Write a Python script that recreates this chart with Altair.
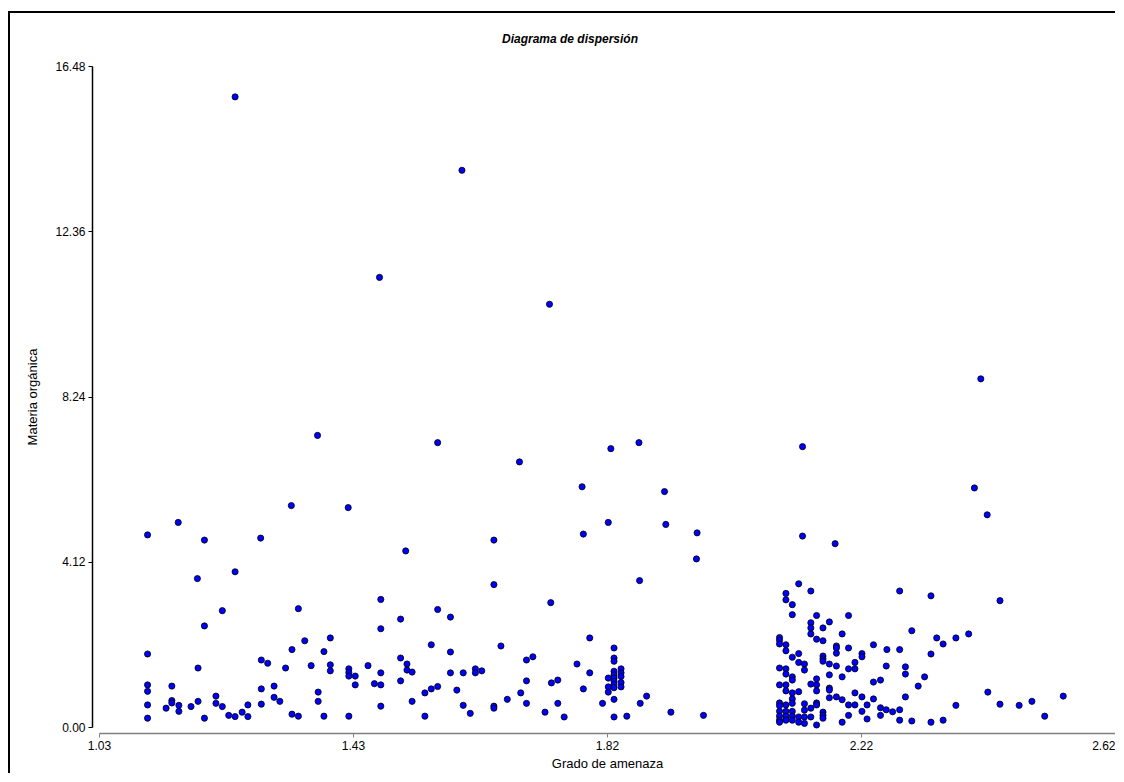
import altair as alt
import pandas as pd

# Puntos aislados (valores altos)
grado_altos = [1.243, 1.598, 1.469, 1.735, 2.410, 1.372, 1.560, 1.831, 1.875, 2.131,
               1.688, 1.786, 1.915, 2.400, 1.331, 1.420, 1.154, 1.827, 1.917, 2.420,
               1.106, 1.966, 2.131, 1.195, 1.283, 1.648, 2.182, 1.510, 1.965, 1.243,
               1.184, 1.648, 1.876, 2.440, 1.471, 1.737, 1.223, 1.342, 1.560, 1.788]
materia_altos = [15.71, 13.88, 11.21, 10.54, 8.68, 7.27, 7.09, 6.94, 7.09, 6.99,
                 6.61, 5.99, 5.87, 5.96, 5.52, 5.47, 5.10, 5.10, 5.05, 5.29,
                 4.79, 4.84, 4.76, 4.66, 4.71, 4.66, 4.57, 4.39, 4.19, 3.87,
                 3.70, 3.55, 3.65, 3.15, 3.18, 3.10, 2.90, 2.95, 2.93, 4.81]

# Grupo izquierdo (1.03 - 1.43)
grado_izq = [1.195, 1.106, 1.352, 1.392, 1.332, 1.382, 1.284, 1.294, 1.185, 1.322,
             1.362, 1.392, 1.392, 1.421, 1.421, 1.421, 1.106, 1.106, 1.144, 1.213,
             1.284, 1.304, 1.304, 1.313, 1.373, 1.373, 1.106, 1.135, 1.144, 1.144,
             1.155, 1.155, 1.174, 1.185, 1.213, 1.223, 1.263, 1.254, 1.233, 1.243,
             1.263, 1.284, 1.106, 1.195, 1.332, 1.342, 1.382, 1.421]
materia_izq = [2.52, 1.82, 2.15, 2.22, 1.93, 1.88, 1.67, 1.59, 1.47, 1.47,
               1.53, 1.55, 1.40, 1.45, 1.36, 1.27, 1.05, 0.89, 1.02, 0.77,
               0.95, 1.02, 0.74, 0.64, 0.87, 0.64, 0.55, 0.47, 0.66, 0.60,
               0.54, 0.39, 0.51, 0.64, 0.59, 0.51, 0.55, 0.37, 0.29, 0.26,
               0.26, 0.57, 0.22, 0.22, 0.32, 0.27, 0.27, 0.27]

# Grupo central (1.43 - 1.80)
grado_centro = [1.471, 1.502, 1.580, 1.550, 1.580, 1.659, 1.798, 1.431, 1.431, 1.451,
                1.461, 1.471, 1.471, 1.471, 1.502, 1.512, 1.512, 1.520, 1.502, 1.520,
                1.540, 1.550, 1.560, 1.540, 1.580, 1.590, 1.600, 1.600, 1.611, 1.619,
                1.619, 1.629, 1.648, 1.648, 1.669, 1.690, 1.699, 1.709, 1.699, 1.699,
                1.728, 1.738, 1.748, 1.748, 1.758, 1.778, 1.788, 1.798]
materia_centro = [2.45, 2.69, 2.74, 2.05, 1.87, 2.02, 2.22, 1.27, 1.05, 1.53,
                  1.08, 1.35, 1.05, 0.52, 1.72, 1.57, 1.42, 1.37, 1.15, 0.64,
                  0.85, 0.95, 1.01, 0.27, 1.35, 0.92, 1.35, 0.54, 0.34, 1.45,
                  1.35, 1.40, 0.52, 0.47, 0.69, 0.85, 1.67, 1.75, 1.15, 0.59,
                  0.37, 1.10, 1.17, 0.59, 0.25, 1.57, 0.95, 1.35]

# Grupo en torno a 1.82
grado_182 = [1.836, 1.836, 1.836, 1.836, 1.836, 1.836, 1.836, 1.836, 1.836, 1.847,
             1.847, 1.847, 1.847, 1.847, 1.827, 1.827, 1.827, 1.836, 1.818, 1.836,
             1.856, 1.877, 1.887, 1.925, 1.976]
materia_182 = [1.97, 1.72, 1.64, 1.39, 1.30, 1.22, 1.14, 1.06, 0.98, 1.45,
               1.35, 1.26, 1.11, 1.00, 1.22, 1.00, 0.87, 0.69, 0.59, 0.25,
               0.27, 0.59, 0.77, 0.37, 0.29]

# Grupo derecho (2.09 - 2.54)
grado_der = [2.125, 2.105, 2.144, 2.283, 2.332, 2.105, 2.115, 2.115, 2.153, 2.203,
             2.144, 2.173, 2.144, 2.163, 2.144, 2.193, 2.302, 2.341, 2.351, 2.153,
             2.163, 2.095, 2.095, 2.095, 2.105, 2.184, 2.184, 2.203, 2.242, 2.263,
             2.283, 2.332, 2.105, 2.184, 2.224, 2.224, 2.115, 2.125, 2.163, 2.163,
             2.163, 2.125, 2.134, 2.134, 2.173, 2.184, 2.213, 2.203, 2.213, 2.262,
             2.292, 2.292, 2.322, 2.312, 2.095, 2.105, 2.105, 2.115, 2.115, 2.173,
             2.193, 2.153, 2.242, 2.253, 2.095, 2.105, 2.144, 2.153, 2.173, 2.173,
             2.105, 2.115, 2.125, 2.153, 2.213, 2.173, 2.184, 2.193, 2.224, 2.242,
             2.292, 2.115, 2.115, 2.095, 2.095, 2.105, 2.134, 2.153, 2.153, 2.203,
             2.213, 2.232, 2.144, 2.253, 2.262, 2.272, 2.283, 2.134, 2.095, 2.105,
             2.115, 2.224, 2.163, 2.163, 2.163, 2.095, 2.105, 2.115, 2.125, 2.134,
             2.144, 2.203, 2.253, 2.095, 2.095, 2.105, 2.115, 2.125, 2.134, 2.153,
             2.193, 2.232, 2.283, 2.302, 2.332, 2.351,
             2.371, 2.391, 2.421, 2.371, 2.440, 2.470, 2.490, 2.510, 2.539]
materia_der = [3.57, 3.33, 3.39, 3.39, 3.27, 3.17, 3.05, 2.80, 2.78, 2.78,
               2.60, 2.62, 2.47, 2.47, 2.32, 2.32, 2.40, 2.22, 2.07, 2.19,
               2.15, 2.23, 2.16, 2.07, 2.05, 2.02, 1.97, 1.97, 2.05, 1.93,
               1.93, 1.82, 1.90, 1.84, 1.83, 1.75, 1.74, 1.83, 1.77, 1.70,
               1.64, 1.61, 1.57, 1.42, 1.57, 1.52, 1.61, 1.45, 1.45, 1.52,
               1.50, 1.32, 1.25, 1.02, 1.47, 1.45, 1.32, 1.25, 1.17, 1.30,
               1.25, 1.20, 1.12, 1.17, 1.05, 1.05, 1.07, 1.05, 0.97, 0.92,
               0.90, 0.85, 0.88, 0.90, 0.85, 0.73, 0.75, 0.68, 0.75, 0.70,
               0.75, 0.70, 0.59, 0.60, 0.53, 0.55, 0.58, 0.60, 0.55, 0.55,
               0.55, 0.55, 0.47, 0.48, 0.43, 0.38, 0.43, 0.42, 0.39, 0.39,
               0.39, 0.39, 0.37, 0.29, 0.22, 0.27, 0.27, 0.27, 0.25, 0.25,
               0.25, 0.29, 0.29, 0.17, 0.12, 0.17, 0.17, 0.12, 0.09, 0.05,
               0.12, 0.20, 0.17, 0.15, 0.12, 0.17,
               2.22, 2.32, 0.87, 0.54, 0.57, 0.54, 0.64, 0.27, 0.77]

x_ticks = [1.03, 1.4275, 1.825, 2.2225, 2.62]
y_ticks = [0.0, 4.12, 8.24, 12.36, 16.48]

grado = grado_altos + grado_izq + grado_centro + grado_182 + grado_der
materia = materia_altos + materia_izq + materia_centro + materia_182 + materia_der
df = pd.DataFrame({"grado": grado, "materia": materia})

FONT = "Liberation Sans"
W, H = 1016, 661

points = alt.Chart(df).mark_circle(
    color="#0000ff", stroke="black", strokeWidth=0.8, size=38, opacity=1
).encode(
    x=alt.X("grado:Q",
            scale=alt.Scale(domain=[1.03, 2.62], nice=False, zero=False),
            axis=alt.Axis(values=x_ticks, format=".2f", title="Grado de amenaza",
                          offset=6, grid=False, domainColor="#808080", domainWidth=1.5,
                          tickColor="#808080", tickSize=4, labelFlush=False,
                          labelAlign={"condition": {"test": "datum.value > 2.6",
                                                    "value": "right"},
                                      "value": "center"},
                          labelOverlap=False, labelFont=FONT, labelFontSize=12,
                          labelColor="black", labelPadding=3, titleFont=FONT,
                          titleFontSize=13, titleFontWeight="normal",
                          titleColor="black", titlePadding=6)),
    y=alt.Y("materia:Q",
            scale=alt.Scale(domain=[0, 16.48], nice=False, zero=True),
            axis=alt.Axis(values=y_ticks, format=".2f", title="Materia orgánica",
                          offset=7, grid=False, domainColor="black", domainWidth=1.5,
                          tickColor="black", tickSize=4, labelFlush=False,
                          labelOverlap=False, labelFont=FONT, labelFontSize=12,
                          labelColor="black", labelPadding=3, titleFont=FONT,
                          titleFontSize=13, titleFontWeight="normal",
                          titleColor="black", titlePadding=15)),
)

frame = alt.Chart(alt.Data(values=[{}])).mark_rect(
    filled=False, stroke="black", strokeWidth=2
).encode(
    x=alt.value(-90), x2=alt.value(1040), y=alt.value(-54), y2=alt.value(740)
)

title = alt.Chart(alt.Data(values=[{}])).mark_text(
    text="Diagrama de dispersión", font=FONT, fontSize=12, fontStyle="italic",
    fontWeight="bold", align="center", baseline="middle", color="black"
).encode(x=alt.value(471), y=alt.value(-27))

chart = alt.layer(frame, title, points).properties(
    width=W, height=H,
    padding={"left": 91, "top": 58, "right": 0, "bottom": 46},
    autosize=alt.AutoSizeParams(type="none"),
).configure_view(stroke=None)

chart.save("out.html", embed_options={"renderer": "svg", "actions": False})
